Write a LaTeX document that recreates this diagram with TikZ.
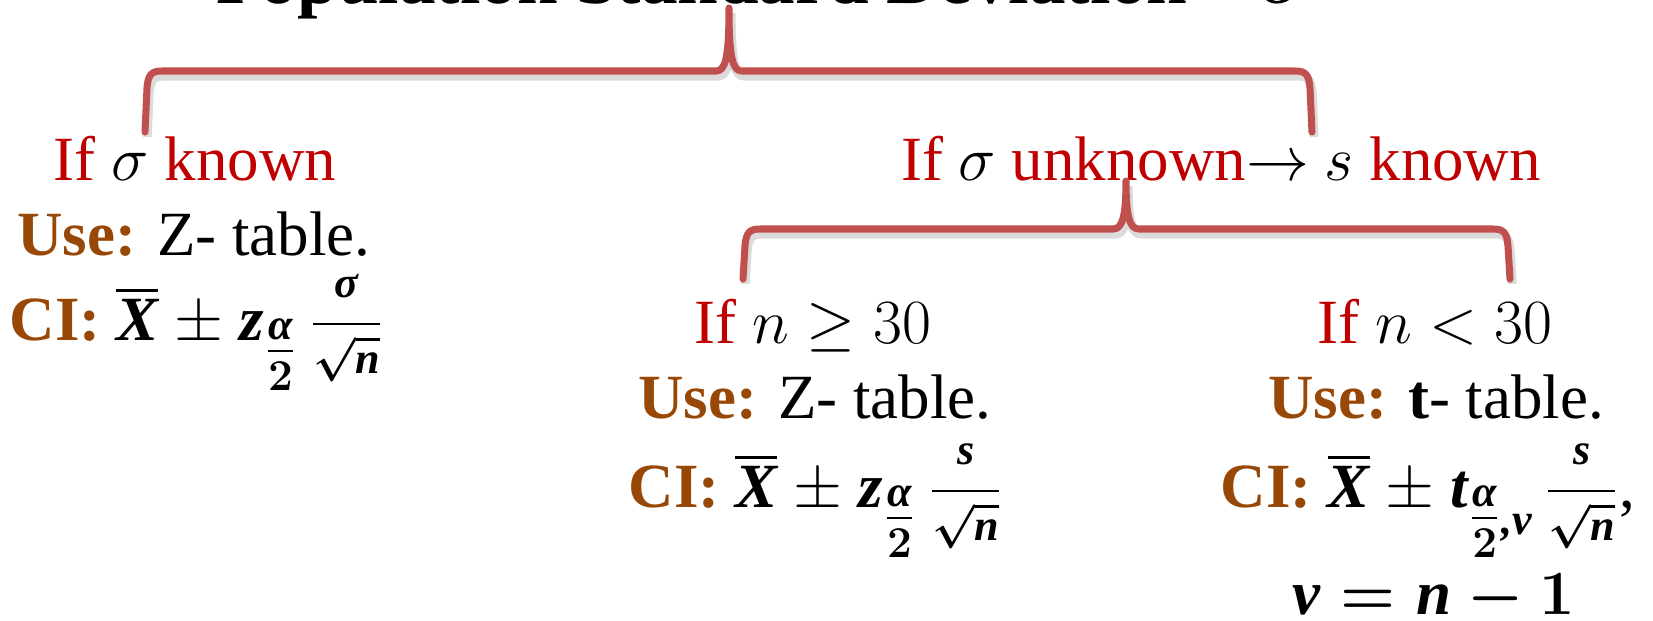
\RequirePackage{fix-cm}
\documentclass[tikz,border=0pt]{standalone}
\usepackage{fontspec}
\setmainfont{Liberation Serif}
\usepackage{amsmath}
\usepackage{xcolor}
\definecolor{ifred}{HTML}{C00000}
\definecolor{usebrown}{HTML}{984806}
\definecolor{bracered}{HTML}{C0504D}
\tikzset{
  every node/.style={inner sep=0pt, anchor=base, font=\fontsize{17.9}{21}\selectfont},
  heading/.style={font=\fontsize{20.8}{25}\selectfont\bfseries\boldmath},
  formula/.style={font=\fontsize{17.9}{21}\selectfont\boldmath},
  bracket/.style={draw=bracered, line width=2pt, line cap=round, line join=round,
    preaction={draw=black!40, opacity=.35, line width=2.6pt,
      transform canvas={xshift=0.6pt,yshift=-1.4pt}}},
}
\newcommand{\redword}[1]{\textcolor{ifred}{#1}}
\newcommand{\usetag}[1]{\textcolor{usebrown}{\textbf{#1}}}
\newcommand{\mv}[1]{\text{\bfseries\itshape #1}}
\newcommand{\halfalpha}{\raisebox{-0.42em}{$\textstyle\frac{\mv{α}}{2}$}}
\newcommand{\thinpm}{\mathbin{\mbox{\unboldmath$\pm$}}}
\newcommand{\overroot}[1]{\frac{\raisebox{0.25em}{$\scriptstyle\mv{#1}$}}{\raisebox{-0.15em}{$\scriptstyle\sqrt{\mv{n}}$}}}

\begin{document}
\begin{tikzpicture}[x=0.01cm,y=-0.01cm]
\useasboundingbox (0,0) rectangle (1653,620);
\clip (0,0) rectangle (1653,620);

% heading, cut at the top
\node[heading] (title) at (765,3) {Population Standard Deviation\quad$\sigma$};

% sigma known
\node (known) at (195,180) {\redword{If} $\sigma$ \redword{known}};
\node (usezA) at (194,255) {\usetag{Use:} Z- table.};
\node[formula] (cizA) at (197,340) {\usetag{CI:} $\overline{\mv{X}}\thinpm \mv{z}\halfalpha\,\overroot{σ}$};

% sigma unknown
\node (unknown) at (1221,180) {\redword{If} $\sigma$ \redword{unknown}$\rightarrow$ $s$ \redword{known}};

\node (nbig) at (813,343) {\redword{If} $n\geq 30$};
\node (usezB) at (815,418) {\usetag{Use:} Z- table.};
\node[formula] (cizB) at (816,507) {\usetag{CI:} $\overline{\mv{X}}\thinpm \mv{z}\halfalpha\,\overroot{s}$};

\node (nsmall) at (1435,343) {\redword{If} $n<30$};
\node (uset) at (1436,418) {\usetag{Use:} \textbf{t}- table.};
\node[formula] (cit) at (1428,507) {\usetag{CI:} $\overline{\mv{X}}\thinpm \mv{t}\halfalpha\raisebox{-0.43em}{$\scriptstyle\mv{,v}$}\,\overroot{s}$,};
\node[formula] (dof) at (1434,614) {$\mv{v}=\mv{n}-1$};

% braces
\coordinate (tipA) at (729,8);
\coordinate (tipB) at (1126,181);

\draw[bracket] (145,132) -- (147,88) .. controls (148,74) and (152,71) .. (162,71)
  -- (716,71) .. controls (725,71) and (729,60) .. (tipA)
  .. controls (729,60) and (733,71) .. (742,71)
  -- (1295,71) .. controls (1305,71) and (1309,74) .. (1310,88) -- (1312,132);

\draw[bracket] (743,279) -- (745,246) .. controls (746,232) and (750,229) .. (760,229)
  -- (1113,229) .. controls (1122,229) and (1126,218) .. (tipB)
  .. controls (1126,218) and (1130,229) .. (1139,229)
  -- (1493,229) .. controls (1503,229) and (1507,232) .. (1508,246) -- (1510,279);
\end{tikzpicture}
\end{document}
